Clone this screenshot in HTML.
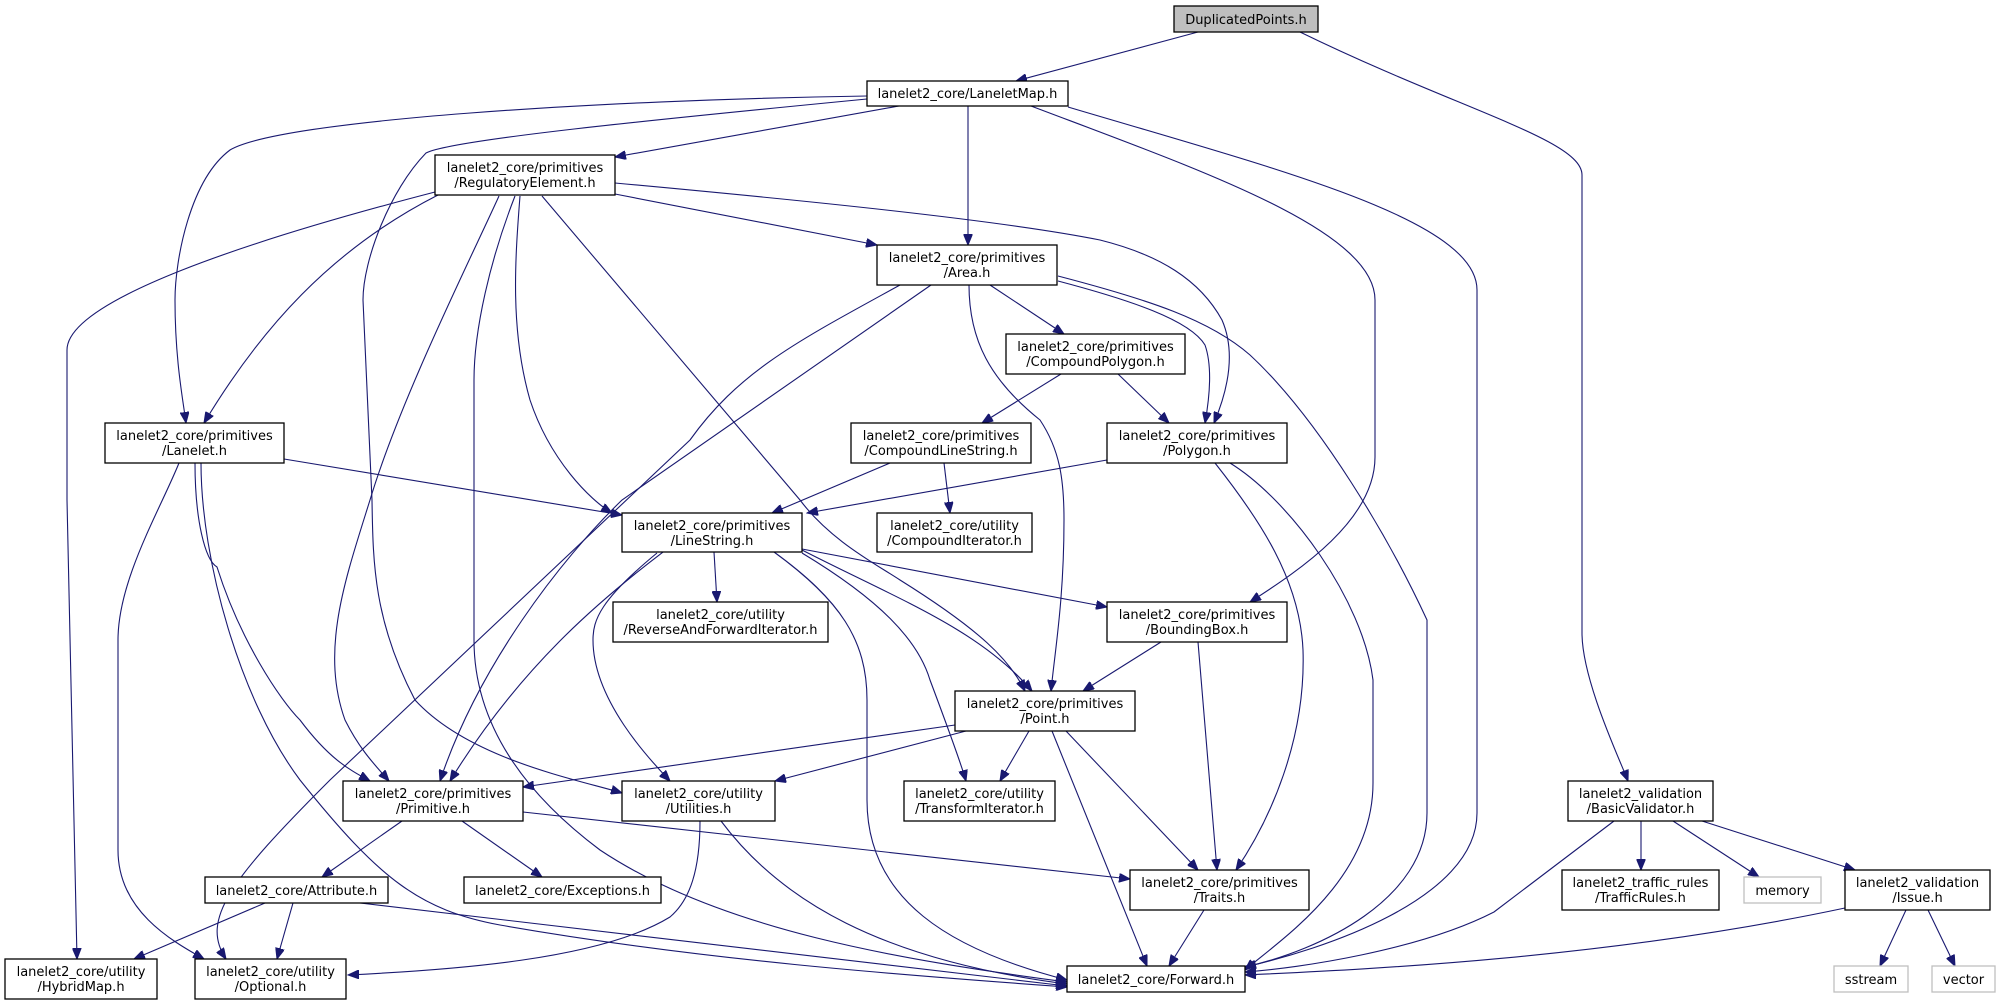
<!DOCTYPE html>
<html><head><meta charset="utf-8"><style>
html,body{margin:0;padding:0;background:#fff;}
svg{display:block;}
text{font-family:"DejaVu Sans","Liberation Sans",sans-serif;font-size:13px;fill:#000;}
.n{fill:#fff;stroke:#000;stroke-width:1.3;}
.g{fill:#fff;stroke:#bfbfbf;stroke-width:1.3;}
.e{fill:none;stroke:#191970;stroke-width:1.1;}
</style></head><body>
<svg width="2007" height="1005" viewBox="0 0 2007 1005" xmlns="http://www.w3.org/2000/svg">
<defs>
<marker id="a" markerWidth="12" markerHeight="9" refX="11" refY="4.5" orient="auto" markerUnits="userSpaceOnUse">
<path d="M0,0 L11,4.5 L0,9 z" fill="#191970" stroke="#191970"/>
</marker>
</defs>
<g class="e" marker-end="url(#a)">
<path d="M1198,32 L1016,81"/>
<path d="M1300,32 C1460,110 1582,140 1582,175 L1582,633 C1582,680 1620,760 1628,781"/>
<path d="M899,106 L615,157"/>
<path d="M968,106 L968,245"/>
<path d="M867,96 C600,100 280,120 230,150 C190,180 175,260 175,300 C175,360 183,400 186,423"/>
<path d="M867,99 C650,120 450,140 426,153 C390,190 363,260 363,300 L372,500 C373,560 373,620 415,700 C470,760 580,780 622,793"/>
<path d="M1031,106 C1200,170 1375,230 1375,300 L1375,457 C1375,520 1300,570 1250,602"/>
<path d="M1068,107 C1280,170 1477,220 1477,290 L1477,813 C1477,900 1320,950 1245,967"/>
<path d="M615,194 L877,245"/>
<path d="M615,183 C800,200 1000,220 1100,240 C1160,255 1200,280 1222,320 C1235,350 1230,385 1214,423"/>
<path d="M438,195 C330,250 260,330 204,423"/>
<path d="M435,192 C250,240 67,300 67,350 L67,500 L77,959"/>
<path d="M499,196 C470,260 400,400 370,500 C345,580 320,650 345,720 C360,750 375,765 389,781"/>
<path d="M515,196 C490,260 474,330 474,380 L474,640 C474,720 520,790 600,850 C720,930 900,960 1067,982"/>
<path d="M520,196 C515,260 510,330 530,400 C550,460 590,500 612,513"/>
<path d="M542,196 L800,500 C830,540 874,563 900,580 C980,630 1010,660 1025,691"/>
<path d="M990,285 L1064,334"/>
<path d="M1058,281 C1130,300 1190,320 1205,345 C1212,365 1210,395 1205,423"/>
<path d="M1058,276 C1150,300 1210,320 1250,355 C1320,420 1390,540 1427,620 L1427,813 C1427,900 1320,950 1245,967"/>
<path d="M969,285 C969,340 990,380 1040,420 C1060,450 1064,480 1064,520 C1064,600 1055,650 1051,691"/>
<path d="M931,285 L622,500 C560,560 478,667 440,781"/>
<path d="M900,285 C800,340 740,370 690,440 L330,780 C230,880 200,920 226,959"/>
<path d="M1061,374 L982,423"/>
<path d="M1118,374 L1169,423"/>
<path d="M890,463 L772,513"/>
<path d="M944,463 L950,513"/>
<path d="M1107,460 L807,513"/>
<path d="M1215,463 C1260,520 1300,580 1303,650 C1306,740 1270,820 1236,870"/>
<path d="M1230,463 C1290,500 1363,600 1373,680 L1373,783 C1373,880 1280,940 1245,970"/>
<path d="M284,459 L622,515"/>
<path d="M195,463 C195,520 205,560 217,567 C240,640 280,700 300,720 C330,760 350,770 370,781"/>
<path d="M201,463 C201,560 240,700 300,780 C380,880 420,910 500,925 C700,960 900,975 1067,987"/>
<path d="M179,463 C160,510 118,580 118,640 L118,850 C118,910 170,940 204,959"/>
<path d="M714,552 L717,602"/>
<path d="M663,552 C600,600 520,667 450,781"/>
<path d="M657,553 C600,600 593,620 593,640 C593,700 650,760 670,781"/>
<path d="M774,552 C840,600 867,640 867,700 L867,800 C867,900 950,950 1067,980"/>
<path d="M802,553 C880,600 918,640 930,680 C945,720 960,760 966,781"/>
<path d="M802,550 C900,600 980,630 1032,691"/>
<path d="M802,549 L1107,607"/>
<path d="M1161,642 L1083,691"/>
<path d="M1198,642 L1217,870"/>
<path d="M1029,731 L1000,781"/>
<path d="M955,725 L523,787"/>
<path d="M966,731 L775,781"/>
<path d="M1066,731 L1198,870"/>
<path d="M1052,731 L1147,966"/>
<path d="M402,821 L322,877"/>
<path d="M462,821 L542,877"/>
<path d="M523,812 L1130,879"/>
<path d="M700,821 C700,870 690,900 670,917 C600,960 450,970 348,975"/>
<path d="M721,821 C780,900 880,960 1067,984"/>
<path d="M265,903 L134,959"/>
<path d="M293,903 L277,959"/>
<path d="M360,903 L1067,986"/>
<path d="M1204,910 L1169,966"/>
<path d="M1614,821 L1494,912 C1420,950 1300,968 1245,972"/>
<path d="M1641,821 L1641,870"/>
<path d="M1673,821 L1759,877"/>
<path d="M1702,821 L1855,870"/>
<path d="M1845,908 C1600,960 1350,970 1245,975"/>
<path d="M1906,910 L1880,966"/>
<path d="M1928,910 L1955,966"/>
</g>
<rect x="1174" y="6" width="144" height="26" fill="#bfbfbf" stroke="#000" stroke-width="1.3"/>
<text x="1246" y="24" text-anchor="middle">DuplicatedPoints.h</text>
<rect class="n" x="867" y="81" width="201" height="25"/>
<text x="967.5" y="98" text-anchor="middle">lanelet2_core/LaneletMap.h</text>
<rect class="n" x="435" y="155" width="180" height="40"/>
<text x="525" y="172" text-anchor="middle">lanelet2_core/primitives</text>
<text x="525" y="187" text-anchor="middle">/RegulatoryElement.h</text>
<rect class="n" x="877" y="245" width="180" height="40"/>
<text x="967" y="262" text-anchor="middle">lanelet2_core/primitives</text>
<text x="967" y="277" text-anchor="middle">/Area.h</text>
<rect class="n" x="1006" y="334" width="179" height="40"/>
<text x="1095.5" y="351" text-anchor="middle">lanelet2_core/primitives</text>
<text x="1095.5" y="366" text-anchor="middle">/CompoundPolygon.h</text>
<rect class="n" x="105" y="423" width="179" height="40"/>
<text x="194.5" y="440" text-anchor="middle">lanelet2_core/primitives</text>
<text x="194.5" y="455" text-anchor="middle">/Lanelet.h</text>
<rect class="n" x="851" y="423" width="180" height="40"/>
<text x="941" y="440" text-anchor="middle">lanelet2_core/primitives</text>
<text x="941" y="455" text-anchor="middle">/CompoundLineString.h</text>
<rect class="n" x="1107" y="423" width="180" height="40"/>
<text x="1197" y="440" text-anchor="middle">lanelet2_core/primitives</text>
<text x="1197" y="455" text-anchor="middle">/Polygon.h</text>
<rect class="n" x="622" y="513" width="180" height="39"/>
<text x="712" y="530" text-anchor="middle">lanelet2_core/primitives</text>
<text x="712" y="545" text-anchor="middle">/LineString.h</text>
<rect class="n" x="877" y="513" width="155" height="39"/>
<text x="954.5" y="530" text-anchor="middle">lanelet2_core/utility</text>
<text x="954.5" y="545" text-anchor="middle">/CompoundIterator.h</text>
<rect class="n" x="613" y="602" width="215" height="40"/>
<text x="720.5" y="619" text-anchor="middle">lanelet2_core/utility</text>
<text x="720.5" y="634" text-anchor="middle">/ReverseAndForwardIterator.h</text>
<rect class="n" x="1107" y="602" width="180" height="40"/>
<text x="1197" y="619" text-anchor="middle">lanelet2_core/primitives</text>
<text x="1197" y="634" text-anchor="middle">/BoundingBox.h</text>
<rect class="n" x="955" y="691" width="180" height="40"/>
<text x="1045" y="708" text-anchor="middle">lanelet2_core/primitives</text>
<text x="1045" y="723" text-anchor="middle">/Point.h</text>
<rect class="n" x="343" y="781" width="180" height="40"/>
<text x="433" y="798" text-anchor="middle">lanelet2_core/primitives</text>
<text x="433" y="813" text-anchor="middle">/Primitive.h</text>
<rect class="n" x="622" y="781" width="153" height="40"/>
<text x="698.5" y="798" text-anchor="middle">lanelet2_core/utility</text>
<text x="698.5" y="813" text-anchor="middle">/Utilities.h</text>
<rect class="n" x="904" y="781" width="151" height="40"/>
<text x="979.5" y="798" text-anchor="middle">lanelet2_core/utility</text>
<text x="979.5" y="813" text-anchor="middle">/TransformIterator.h</text>
<rect class="n" x="1568" y="781" width="145" height="40"/>
<text x="1640.5" y="798" text-anchor="middle">lanelet2_validation</text>
<text x="1640.5" y="813" text-anchor="middle">/BasicValidator.h</text>
<rect class="n" x="205" y="877" width="183" height="26"/>
<text x="296.5" y="895" text-anchor="middle">lanelet2_core/Attribute.h</text>
<rect class="n" x="464" y="877" width="197" height="26"/>
<text x="562.5" y="895" text-anchor="middle">lanelet2_core/Exceptions.h</text>
<rect class="n" x="1130" y="870" width="179" height="40"/>
<text x="1219.5" y="887" text-anchor="middle">lanelet2_core/primitives</text>
<text x="1219.5" y="902" text-anchor="middle">/Traits.h</text>
<rect class="n" x="1562" y="870" width="157" height="40"/>
<text x="1640.5" y="887" text-anchor="middle">lanelet2_traffic_rules</text>
<text x="1640.5" y="902" text-anchor="middle">/TrafficRules.h</text>
<rect class="g" x="1744" y="877" width="77" height="26"/>
<text x="1782.5" y="895" text-anchor="middle">memory</text>
<rect class="n" x="1845" y="870" width="145" height="40"/>
<text x="1917.5" y="887" text-anchor="middle">lanelet2_validation</text>
<text x="1917.5" y="902" text-anchor="middle">/Issue.h</text>
<rect class="n" x="5" y="959" width="152" height="40"/>
<text x="81" y="976" text-anchor="middle">lanelet2_core/utility</text>
<text x="81" y="991" text-anchor="middle">/HybridMap.h</text>
<rect class="n" x="195" y="959" width="151" height="40"/>
<text x="270.5" y="976" text-anchor="middle">lanelet2_core/utility</text>
<text x="270.5" y="991" text-anchor="middle">/Optional.h</text>
<rect class="n" x="1067" y="966" width="178" height="26"/>
<text x="1156" y="984" text-anchor="middle">lanelet2_core/Forward.h</text>
<rect class="g" x="1834" y="966" width="74" height="26"/>
<text x="1871" y="984" text-anchor="middle">sstream</text>
<rect class="g" x="1932" y="966" width="63" height="26"/>
<text x="1963.5" y="984" text-anchor="middle">vector</text>
</svg>
</body></html>
